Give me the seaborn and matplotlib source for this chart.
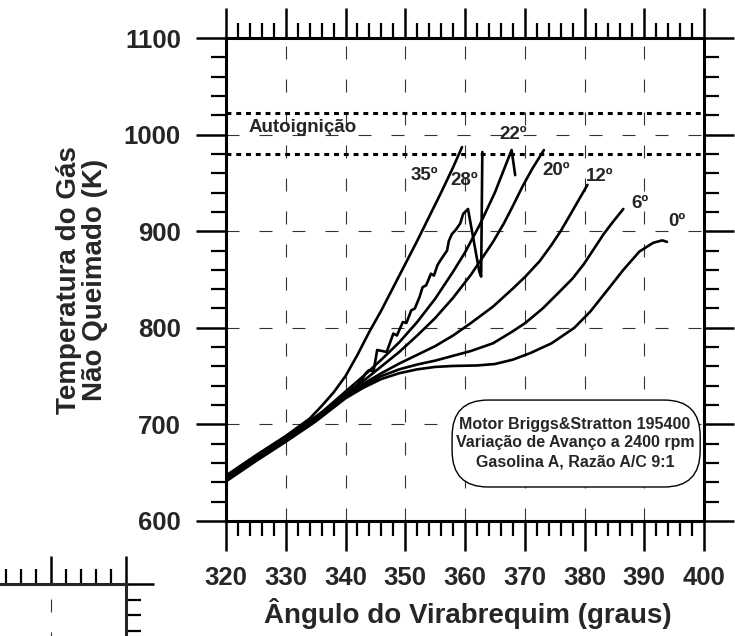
import matplotlib
matplotlib.use("Agg")
import matplotlib.pyplot as plt
from matplotlib.ticker import MultipleLocator
from matplotlib.patches import FancyBboxPatch
import numpy as np
import pandas as pd
import seaborn as sns

# curves: crank angle (graus) vs unburned gas temperature (K)
ang_0 = [320, 325, 330, 335, 340, 343, 346, 349, 352, 355, 358, 362, 365, 368, 371,
         374.5, 378.3, 381, 383.7, 386.5, 389.2, 391.5, 393, 393.8]
tmp_0 = [641, 662, 682, 703, 727, 738, 747, 753, 757, 759.5, 760.5, 761, 762.5, 767, 774,
         784, 800, 817, 838, 860, 879, 888, 890.5, 889]

ang_6 = [320, 325, 330, 335, 340, 343, 346, 349, 352, 355, 358, 361, 364.7, 367.9, 370.1,
         373, 375.6, 378, 379.9, 381.5, 383.2, 384.8, 386.5]
tmp_6 = [642, 663, 683, 704, 728, 740, 750, 757, 762, 766, 771, 776, 784, 796, 805,
         820, 836, 851, 866, 881, 897, 910, 923]

ang_12 = [320, 325, 330, 335, 340, 343, 346, 349, 352, 355, 358, 361, 364.7, 367.9, 370.1,
          372.5, 374.5, 376, 377.7, 379, 380.5]
tmp_12 = [643, 664, 684, 705, 730, 742, 753, 763, 772, 781, 792, 805, 822, 840, 853,
          869, 886, 900, 918, 932, 948]

ang_20 = [320, 325, 330, 335, 340, 343, 346, 349, 352, 355, 358, 361, 364.7, 366.5, 368,
          369.6, 371.2, 373.2]
tmp_20 = [644, 665, 685, 706, 732, 745, 760, 775, 792, 810, 831, 855, 889, 908, 926,
          946, 964, 984]

ang_22 = [320, 325, 330, 335, 340, 343, 346, 349, 352, 355, 358, 360, 362.5, 365, 367.8, 368.4]
tmp_22 = [645, 666, 686, 707, 734, 750, 767, 785, 806, 830, 858, 878, 907, 940, 984, 958]

ang_28 = [320, 325, 330, 335, 338, 340, 341.7, 342.7, 343.4, 343.9, 344.7, 345.3, 346.9,
          348.0, 348.6, 349.6, 350.2, 351.0, 351.6, 352.4, 352.9, 353.5, 354.3, 354.8,
          355.4, 355.9, 357.0, 357.3, 357.8, 358.4, 359.2, 359.7, 360.5, 362.4, 362.7, 362.9]
tmp_28 = [646, 667, 687, 708, 721, 731, 739, 746, 753, 756, 755, 777, 775,
          794, 792, 806, 805, 818, 820, 832, 842, 844, 856, 854,
          865, 870, 880, 890, 897, 901, 908, 918, 923, 858, 853, 982]

ang_35 = [320, 325, 330, 334, 336, 338, 340, 342, 344, 346, 348, 350, 352, 354, 356, 358, 359.5]
tmp_35 = [647, 668, 688, 706, 719, 733, 750, 772, 796, 818, 842, 866, 890, 915, 940, 966, 987]

curve_names = ["0º", "6º", "12º", "20º", "22º", "28º", "35º"]
autoign_lo = 980
autoign_hi = 1022

df = pd.concat([
    pd.DataFrame({"angulo": a, "temp": t, "curva": n})
    for a, t, n in zip([ang_0, ang_6, ang_12, ang_20, ang_22, ang_28, ang_35],
                       [tmp_0, tmp_6, tmp_12, tmp_20, tmp_22, tmp_28, tmp_35],
                       curve_names)
], ignore_index=True)

sns.set_style("white")
plt.rcParams["font.family"] = ["Liberation Sans", "DejaVu Sans"]
plt.rcParams["font.weight"] = "bold"

fig = plt.figure(figsize=(7.35, 6.36), dpi=100)
ax = fig.add_axes([226 / 735, 115 / 636, 478 / 735, 483 / 636])

ax.axhline(autoign_hi, color="black", lw=2.2, linestyle=(0, (1.6, 1.6)), zorder=1)
ax.axhline(autoign_lo, color="black", lw=2.2, linestyle=(0, (1.6, 1.6)), zorder=1)

sns.lineplot(data=df, x="angulo", y="temp", units="curva", estimator=None, sort=False,
             color="black", lw=1.9, legend=False, ax=ax)

ax.set_xlim(320, 400)
ax.set_ylim(600, 1100)
ax.xaxis.set_major_locator(MultipleLocator(10))
ax.xaxis.set_minor_locator(MultipleLocator(2))
ax.yaxis.set_major_locator(MultipleLocator(100))
ax.yaxis.set_minor_locator(MultipleLocator(20))
ax.tick_params(which="both", direction="out", top=True, right=True,
               bottom=True, left=True, labeltop=False, labelright=False, color="black")
ax.tick_params(which="major", length=21.5, width=1.8, labelsize=18.5)
ax.tick_params(which="minor", length=10.5, width=1.6)
ax.tick_params(axis="y", which="major", pad=11)
ax.tick_params(axis="x", which="major", pad=11)
for s in ax.spines.values():
    s.set_linewidth(2.2)
    s.set_color("black")
ax.grid(True, which="major", color="#333333", lw=0.8, linestyle=(0, (11.7, 18)))
ax.set_xlabel("")
ax.set_ylabel("")

# labels at the curve ends
lab_kw = dict(fontsize=13.5, fontweight="bold", ha="center", va="center")
ax.text(353.2, 958, "35º", **lab_kw)
ax.text(359.8, 953, "28º", **lab_kw)
ax.text(368.1, 1000, "22º", **lab_kw)
ax.text(375.3, 963, "20º", **lab_kw)
ax.text(382.6, 957, "12º", **lab_kw)
ax.text(389.3, 929, "6º", **lab_kw)
ax.text(395.4, 910, "0º", **lab_kw)
ax.text(323.7, 1007, "Autoignição", fontsize=13.5, fontweight="bold", ha="left", va="center")

box = FancyBboxPatch((0.473, 0.0704), 0.519, 0.180,
                     boxstyle="round,pad=0,rounding_size=0.075",
                     transform=ax.transAxes, fc="white", ec="black", lw=1.0, zorder=5)
ax.add_patch(box)
ax.text(0.730, 0.1615,
        "Motor Briggs&Stratton 195400\nVariação de Avanço a 2400 rpm\nGasolina A, Razão A/C 9:1",
        transform=ax.transAxes, ha="center", va="center", fontsize=11.5,
        fontweight="bold", linespacing=1.3, zorder=6)

fig.text(82 / 735, 1 - 280 / 636, "Temperatura do Gás\nNão Queimado (K)",
         rotation=90, ha="center", va="center", fontsize=20, fontweight="bold",
         multialignment="center", linespacing=1.0)
fig.text(468 / 735, (636 - 623) / 636, "Ângulo do Virabrequim (graus)",
         ha="center", va="baseline", fontsize=20, fontweight="bold")

# corner of a second frame peeking in at the bottom left
ax2 = fig.add_axes([-99 / 735, (636 - 739) / 636, 225 / 735, 155 / 636])
ax2.set_xlim(0, 3)
ax2.set_ylim(0, 2)
ax2.xaxis.set_major_locator(MultipleLocator(1))
ax2.xaxis.set_minor_locator(MultipleLocator(0.2))
ax2.yaxis.set_major_locator(MultipleLocator(1))
ax2.yaxis.set_minor_locator(MultipleLocator(0.2))
ax2.tick_params(which="both", direction="out", top=True, right=True, bottom=False,
                left=False, labeltop=False, labelright=False, labelbottom=False,
                labelleft=False, color="black")
ax2.tick_params(which="major", length=20, width=1.8)
ax2.tick_params(which="minor", length=10.5, width=1.6)
ax2.spines["left"].set_visible(False)
ax2.spines["bottom"].set_visible(False)
ax2.spines["top"].set_linewidth(2.2)
ax2.spines["right"].set_linewidth(2.2)
ax2.grid(True, axis="x", which="major", color="#333333", lw=0.8,
         linestyle=(7.2, (11.7, 18)))
ax2.set_facecolor("none")

fig.savefig("out.png", dpi=100)
